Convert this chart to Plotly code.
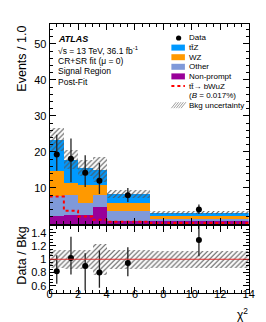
import numpy as np
import plotly.graph_objects as go

# ---------------- data ----------------
bin_edges = [0, 1, 2, 3, 4, 7, 14]
nonprompt = [2.1, 2.4, 2.4, 4.6, 0.9, 0.7]
other_top = [7.7, 8.0, 5.8, 8.0, 3.5, 1.4]      # cumulative top of "Other"
wz_top = [14.8, 11.4, 10.7, 10.9, 5.8, 2.3]      # cumulative top of "WZ"
ttz_top = [23.4, 17.9, 15.6, 15.1, 8.3, 3.1]     # cumulative top of "ttZ" (total bkg)
bkg_unc = [3.2, 2.5, 2.2, 3.4, 1.2, 0.4]
signal = [7.6, 3.7, 2.1, 1.2, 0.6, 0.3]
data = [19.3, 18.1, 14.2, 12.0, 8.0, 4.0]
data_up = [5.5, 5.6, 4.9, 4.9, 2.0, 1.4]
data_dn = [4.5, 6.5, 3.9, 3.7, 1.9, 1.2]
ratio = [0.82, 1.02, 0.90, 0.80, 0.945, 1.29]
ratio_up = [0.24, 0.32, 0.19, 0.33, 0.235, 0.5]
ratio_dn = [0.19, 0.25, 0.37, 0.23, 0.2, 0.245]
ratio_unc = [0.135, 0.14, 0.14, 0.23, 0.14, 0.13]
x_ticks = [0, 2, 4, 6, 8, 10, 12, 14]
y_ticks = [10, 20, 30, 40, 50]
r_ticks = [0.6, 0.8, 1.0, 1.2, 1.4]
r_ticktext = ["0.6", "0.8", "1", "1.2", "1.4"]

edges = np.array(bin_edges, dtype=float)
centers = 0.5 * (edges[:-1] + edges[1:])
widths = edges[1:] - edges[:-1]
np_ = np.array(nonprompt)
ot = np.array(other_top)
wz = np.array(wz_top)
tz = np.array(ttz_top)
unc = np.array(bkg_unc)

FONT = "Liberation Sans, Arial, sans-serif"
C_TTZ = "#0099ff"
C_WZ = "#ff9900"
C_OTH = "#7f99d9"
C_NP = "#990099"
C_SIG = "#ff0000"

W, H = 266, 322


def px(x):
    return x / W


def py(y):
    return 1 - y / H


fig = go.Figure()

# stacked backgrounds (overlay with explicit bases)
layers = [
    (np.zeros_like(np_), np_, C_NP),
    (np_, ot - np_, C_OTH),
    (ot, wz - ot, C_WZ),
    (wz, tz - wz, C_TTZ),
]
for base, val, col in layers:
    fig.add_trace(go.Bar(x=centers, y=val, base=base, width=widths,
                         marker=dict(color=col, line=dict(width=0)),
                         xaxis="x", yaxis="y", showlegend=False))

hatch = dict(shape="/", fgcolor="#555555", bgcolor="rgba(0,0,0,0)",
             size=3.5, solidity=0.3, fillmode="replace")
fig.add_trace(go.Bar(x=centers, y=2 * unc, base=tz - unc, width=widths,
                     marker=dict(color="rgba(0,0,0,0)", pattern=hatch,
                                 line=dict(width=0)),
                     xaxis="x", yaxis="y", showlegend=False))

# signal dotted step
fig.add_trace(go.Scatter(x=edges, y=list(signal) + [signal[-1]],
                         mode="lines", line=dict(color=C_SIG, dash="dot",
                                                 width=2, shape="hv"),
                         xaxis="x", yaxis="y", showlegend=False))

# data
fig.add_trace(go.Scatter(x=centers, y=data, mode="markers",
                         marker=dict(color="black", size=6),
                         error_y=dict(type="data", array=data_up,
                                      arrayminus=data_dn, color="#222222",
                                      thickness=1.3, width=0),
                         xaxis="x", yaxis="y", showlegend=False))

# ratio band
ru = np.array(ratio_unc)
fig.add_trace(go.Bar(x=centers, y=2 * ru, base=1 - ru, width=widths,
                     marker=dict(color="rgba(0,0,0,0)", pattern=hatch,
                                 line=dict(width=0)),
                     xaxis="x2", yaxis="y2", showlegend=False))
fig.add_trace(go.Scatter(x=centers, y=ratio, mode="markers",
                         marker=dict(color="black", size=6),
                         error_y=dict(type="data", array=ratio_up,
                                      arrayminus=ratio_dn, color="#222222",
                                      thickness=1.3, width=0),
                         xaxis="x2", yaxis="y2", showlegend=False,
                         cliponaxis=True))

xd = [px(40), px(246)]
ax_common = dict(showline=True, linecolor="black", linewidth=1, mirror="allticks",
                 ticks="inside", ticklen=6, tickcolor="black", tickwidth=1,
                 showgrid=False, zeroline=False,
                 tickfont=dict(family=FONT, size=11, color="black"))

fig.update_layout(
    width=W, height=H, margin=dict(l=0, r=0, t=0, b=0),
    paper_bgcolor="white", plot_bgcolor="white", barmode="overlay",
    bargap=0, showlegend=False, font=dict(family=FONT, color="black"),
    xaxis=dict(domain=xd, range=[0, 14], anchor="y", showticklabels=False,
               tickvals=x_ticks,
               minor=dict(dtick=0.5, ticklen=3, ticks="inside", tickcolor="black"),
               matches="x2", **ax_common),
    yaxis=dict(domain=[py(216), py(16)], range=[0, 55.5], anchor="x",
               tickvals=y_ticks,
               minor=dict(dtick=2, ticklen=3, ticks="inside", tickcolor="black"),
               **ax_common),
    xaxis2=dict(domain=xd, range=[0, 14], anchor="y2", tickvals=x_ticks,
                ticklabelstandoff=-9,
                minor=dict(dtick=0.5, ticklen=3, ticks="inside", tickcolor="black"),
                **ax_common),
    yaxis2=dict(domain=[py(284.5), py(218)], range=[0.5, 1.5], anchor="x2",
                tickvals=r_ticks, ticktext=r_ticktext,
                minor=dict(dtick=0.05, ticklen=3, ticks="inside", tickcolor="black"),
                **ax_common),
)

# reference line at 1 in ratio
fig.add_shape(type="line", xref="x2 domain", yref="y2", x0=0, x1=1, y0=1, y1=1,
              line=dict(color="#e03030", width=1))

ann = []
shapes = []


def text(x, y, s, size=8, anchor="left", **kw):
    ann.append(dict(x=px(x), y=py(y), xref="paper", yref="paper", text=s,
                    showarrow=False, xanchor=anchor, yanchor="middle",
                    font=dict(family=FONT, size=size, color="black"), **kw))


# left labels
text(47, 31.5, "<b><i>ATLAS</i></b>", size=9)
text(47, 42, "√s = 13 TeV, 36.1 fb<sup>-1</sup>", size=8.5)
text(47, 52.5, "CR+SR fit (μ = 0)", size=8.5)
text(47, 63, "Signal Region", size=8.5)
text(47, 73.5, "Post-Fit", size=8.5)

# legend
rows = [30 + 9.6 * i for i in range(8)]
labels = ["Data", "tt\u0304Z", "WZ", "Other", "Non-prompt", "tt\u0304→ bWuZ",
          "(<i>B</i> = 0.017%)", "Bkg uncertainty"]
for yy, lab in zip(rows, labels):
    text(182, yy, lab)

shapes.append(dict(type="circle", xref="paper", yref="paper",
                   xsizemode="pixel", ysizemode="pixel",
                   xanchor=px(173.5), yanchor=py(rows[0]),
                   x0=-2.6, x1=2.6, y0=-2.6, y1=2.6,
                   fillcolor="black", line=dict(width=0)))
for yy, col in zip(rows[1:5], [C_TTZ, C_WZ, C_OTH, C_NP]):
    shapes.append(dict(type="rect", xref="paper", yref="paper",
                       x0=px(166), x1=px(180), y0=py(yy + 3), y1=py(yy - 3),
                       fillcolor=col, line=dict(width=0)))
shapes.append(dict(type="line", xref="paper", yref="paper",
                   x0=px(166), x1=px(180), y0=py(rows[5]), y1=py(rows[5]),
                   line=dict(color=C_SIG, dash="dot", width=2)))
# hatched legend box
for k in range(5):
    x0 = 166 + 2.5 * k
    shapes.append(dict(type="line", xref="paper", yref="paper",
                       x0=px(x0), x1=px(x0 + 5), y0=py(rows[7] + 3),
                       y1=py(rows[7] - 3),
                       line=dict(color="#888888", width=0.8)))

# axis titles
ann.append(dict(x=px(11), y=py(16), xref="paper", yref="paper",
                text="Events / 1.0", textangle=-90, showarrow=False,
                xanchor="center", yanchor="top",
                font=dict(family=FONT, size=12.5, color="black")))
ann.append(dict(x=px(11), y=py(248), xref="paper", yref="paper",
                text="Data / Bkg", textangle=-90, showarrow=False,
                xanchor="center", yanchor="middle",
                font=dict(family=FONT, size=12.5, color="black")))
ann.append(dict(x=px(247), y=py(306), xref="paper", yref="paper",
                text="χ<sup>2</sup>", showarrow=False,
                xanchor="right", yanchor="middle",
                font=dict(family=FONT, size=12, color="black")))

fig.update_layout(annotations=ann, shapes=list(fig.layout.shapes) + shapes)

fig.write_html("out.html")
